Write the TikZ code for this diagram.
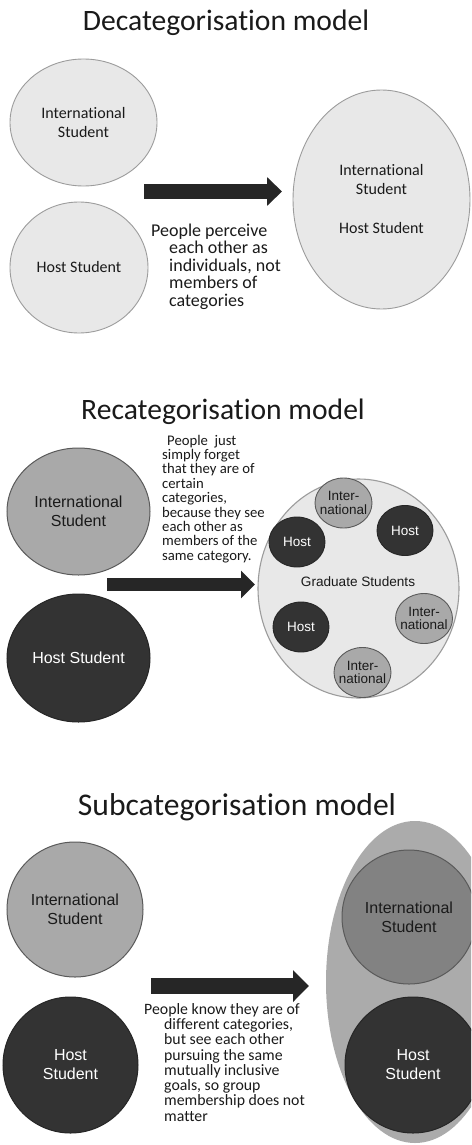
\documentclass[tikz,border=0pt]{standalone}
\usepackage{fontspec}
\setmainfont{Carlito}[Ligatures=NoCommon]
\newfontfamily\arialf{Liberation Sans}
\usetikzlibrary{shapes.geometric,arrows.meta}
\definecolor{lightfill}{HTML}{E8E8E8}
\definecolor{lightstroke}{HTML}{9C9C9C}
\definecolor{midfill}{HTML}{A9A9A9}
\definecolor{midstroke}{HTML}{5A5A5A}
\definecolor{darkfill}{HTML}{333333}
\definecolor{darkstroke}{HTML}{262626}
\definecolor{darkerfill}{HTML}{828282}
\definecolor{outerfill}{HTML}{ABABAB}
\definecolor{arrowcol}{HTML}{262626}
\definecolor{txt}{HTML}{1A1A1A}
\begin{document}
\begin{tikzpicture}[x=1pt,y=-1pt,
  title/.style={anchor=base, inner sep=0pt, text=txt, font=\fontsize{29.6}{34}\selectfont},
  lightell/.style={ellipse, draw=lightstroke, fill=lightfill, line width=0.9pt, inner sep=0pt, align=center, text=txt, font=\fontsize{16}{19}\selectfont},
  midell/.style={ellipse, draw=midstroke, fill=midfill, line width=1pt, inner sep=0pt, align=center, text=txt, font=\arialf\fontsize{16}{19}\selectfont},
  darkell/.style={ellipse, draw=darkstroke, fill=darkfill, line width=1pt, inner sep=0pt, align=center, text=white, font=\arialf\fontsize{16}{19}\selectfont},
  darkerell/.style={ellipse, draw=midstroke, fill=darkerfill, line width=1pt, inner sep=0pt, align=center, text=txt, font=\arialf\fontsize{16}{19}\selectfont},
  outerell/.style={ellipse, fill=outerfill, inner sep=0pt},
  smalltxt/.style={inner sep=0pt, align=center, font=\arialf\fontsize{13.5}{13.5}\selectfont},
  smallint/.style={ellipse, draw=midstroke, fill=midfill, line width=0.9pt, inner sep=0pt, minimum width=57, minimum height=50,
    label={[smalltxt, text=txt]center:{Inter-\\national}}},
  smallhost/.style={ellipse, draw=darkstroke, fill=darkfill, line width=0.9pt, inner sep=0pt, minimum width=56, minimum height=50,
    label={[smalltxt, text=white]center:Host}},
  expl/.style={anchor=north west, inner sep=0pt, align=left, text=txt},
  bigarrow/.style={draw=arrowcol}
]
\clip (0,0) rectangle (471,1145);
\fill[white] (0,0) rectangle (471,1145);

% ---------- Decategorisation ----------
\node[title] (t1) at (226,31) {Decategorisation model};
\node[lightell, minimum width=147, minimum height=127] (is1) at (83.5,122.5) {International\\Student};
\node[lightell, minimum width=138, minimum height=131] (hs1) at (79,267.5) {Host Student};
\node[lightell, minimum width=177, minimum height=219] (both1) at (381.5,199.5) {International\\Student\\[20pt]Host Student};
\coordinate (a1s) at (144,191.5);
\coordinate (a1e) at (282,191.5);
\draw[bigarrow, line width=15pt, -{Triangle[length=15pt,width=28pt]}] (a1s) -- (a1e);
\node[expl, font=\fontsize{18}{17.5}\selectfont] (e1) at (169,223.4)
  {\hspace*{-18pt}People perceive\\each other as\\individuals, not\\members of\\categories};

% ---------- Recategorisation ----------
\node[title] (t2) at (223,419) {Recategorisation model};
\node[midell, minimum width=143, minimum height=127] (is2) at (78.5,511.5) {International\\Student};
\node[darkell, minimum width=143, minimum height=128] (hs2) at (78.5,658) {Host Student};
\node[lightell, line width=1.1pt, minimum width=201, minimum height=219] (gs) at (358.5,588.5) {};
\node[inner sep=0pt, text=txt, font=\arialf\fontsize{13.6}{16}\selectfont] (gst) at (358,582) {Graduate Students};
\node[smallint] (i2a) at (343.5,503) {};
\node[smallhost] (h2a) at (297,542) {};
\node[smallhost] (h2b) at (405,530.5) {};
\node[smallhost] (h2c) at (301,627) {};
\node[smallint] (i2b) at (424,618.5) {};
\node[smallint] (i2c) at (362.5,672.5) {};
\coordinate (a2s) at (107,584.5);
\coordinate (a2e) at (255,584.5);
\draw[bigarrow, line width=13pt, -{Triangle[length=14pt,width=27pt]}] (a2s) -- (a2e);
\node[expl, font=\fontsize{14.7}{14.4}\selectfont] (e2) at (162,434.7)
  {\hspace*{5pt}People\ \ just\\simply forget\\that they are of\\certain\\categories,\\because they see\\each other as\\members of the\\same category.};

% ---------- Subcategorisation ----------
\node[title, font=\fontsize{31.6}{36}\selectfont] (t3) at (237,815) {Subcategorisation model};
\node[outerell, minimum width=178, minimum height=322] (grp3) at (415,982) {};
\node[midell, minimum width=136, minimum height=135] (is3) at (75,909.5) {International\\Student};
\node[darkell, minimum width=135, minimum height=136] (hs3) at (70.5,1065) {Host\\Student};
\node[darkerell, minimum width=134, minimum height=134] (is3b) at (409,917) {International\\Student};
\node[darkell, minimum width=136, minimum height=136] (hs3b) at (413,1065) {Host\\Student};
\coordinate (a3s) at (151,986);
\coordinate (a3e) at (309,986);
\draw[bigarrow, line width=16pt, -{Triangle[length=16pt,width=31pt]}] (a3s) -- (a3e);
\node[expl, font=\fontsize{15.8}{15.3}\selectfont] (e3) at (164,1003)
  {\hspace*{-20pt}People know they are of\\different categories,\\but see each other\\pursuing the same\\mutually inclusive\\goals, so group\\membership does not\\matter};
\end{tikzpicture}
\end{document}
